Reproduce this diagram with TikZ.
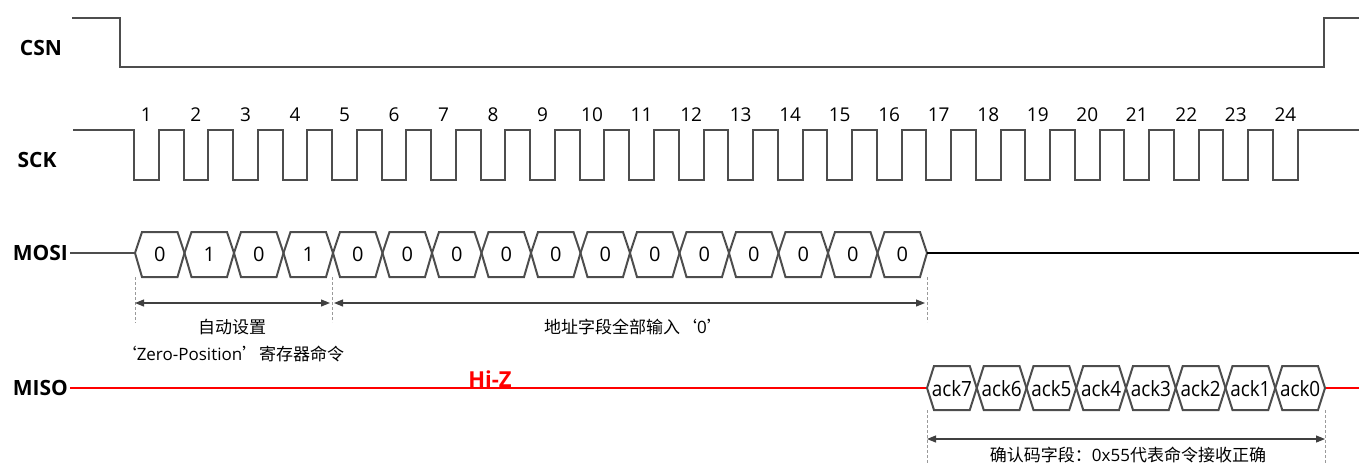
\documentclass[tikz,border=0pt]{standalone}
\usepackage{fontspec}
\setmainfont{Open Sans}
\newfontfamily\cjk{Noto Sans CJK SC}
\newfontfamily\lat{Open Sans}
\usetikzlibrary{arrows.meta}
\definecolor{wirecol}{HTML}{4D4D4D}
\definecolor{dimcol}{HTML}{404040}
\definecolor{guidecol}{HTML}{9A9A9A}
\definecolor{misored}{HTML}{FF0000}
\begin{document}
\begin{tikzpicture}[x=1pt,y=-1pt,
  wire/.style={draw=wirecol,line width=2pt,line join=miter},
  lbl/.style={font=\bfseries\fontsize{21}{21}\selectfont,text=black,inner sep=0pt},
  num/.style={font=\fontsize{19}{19}\selectfont,inner sep=0pt},
  celltxt/.style={font=\fontsize{20}{20}\selectfont,inner sep=0pt},
  acktxt/.style={font=\fontsize{21}{21}\selectfont,inner sep=0pt},
  dimarrow/.style={draw=dimcol,line width=1.1pt,{Triangle[length=9pt,width=7pt]}-{Triangle[length=9pt,width=7pt]}},
  guide/.style={draw=guidecol,line width=1pt,dash pattern=on 3pt off 2pt},
  note/.style={font=\cjk\fontsize{17}{17}\selectfont,inner sep=0pt}]
\useasboundingbox (0,0) rectangle (1359,464);

% labels
\node[lbl] (csnlbl) at (41,48) {CSN};
\node[lbl] (scklbl) at (37,160) {SCK};
\node[lbl,anchor=east] (mosilbl) at (68,253) {MOSI};
\node[lbl,anchor=east] (misolbl) at (68,388) {MISO};

% CSN
\draw[wire] (72,18) -- (120,18) -- (120,67) -- (1324,67) -- (1324,18) -- (1359,18);

% SCK
\draw[wire] (73,130) foreach \i in {0,...,23} {
  -- ({134+49.52*\i},130) -- ({134+49.52*\i},180) -- ({158.8+49.52*\i},180) -- ({158.8+49.52*\i},130) }
  -- (1359,130);
\foreach \i [evaluate=\i as \n using int(\i+1)] in {0,...,23}
  \node[num] (n\n) at ({146.4+49.52*\i},115) {\n};

% MOSI
\draw[wire] (mosilbl.east) ++(2pt,0) -- (135,253);
\foreach \v [count=\k from 0] in {0,1,0,1,0,0,0,0,0,0,0,0,0,0,0,0} {
  \pgfmathsetmacro\xa{135+49.5*\k}
  \pgfmathsetmacro\xb{\xa+49.5}
  \draw[wire] (\xa,253) -- ({\xa+7},232) -- ({\xb-7},232) -- (\xb,253) -- ({\xb-7},277) -- ({\xa+7},277) -- cycle;
  \node[celltxt] (mo\k) at ({(\xa+\xb)/2},254) {\v};
}
\draw[black,line width=2.6pt] (927,253) -- (1359,253);

% MOSI annotations
\draw[guide] (135,277) -- (135,323);
\draw[guide] (332,277) -- (332,322);
\draw[guide] (927,277) -- (927,322);
\coordinate (a1) at (135,303);
\coordinate (a2) at (330,303);
\coordinate (a3) at (334,303);
\coordinate (a4) at (925,303);
\draw[dimarrow] (a1) -- (a2);
\draw[dimarrow] (a3) -- (a4);
\node[note] (t1) at (232,327) {自动设置};
\node[note] (t2) at (232,354) {‘{\lat Zero-Position}’寄存器命令};
\node[note] (t3) at (634,327) {地址字段全部输入‘{\lat 0}’};

% MISO
\draw[misored,line width=2.6pt] (misolbl.east) ++(2pt,0) -- (927,388);
\draw[misored,line width=2.6pt] (1325,388) -- (1359,388);
\node[font=\bfseries\fontsize{22}{22}\selectfont,text=misored,inner sep=0pt] (hiz) at (490,379) {Hi-Z};
\foreach \v [count=\k from 0] in {ack7,ack6,ack5,ack4,ack3,ack2,ack1,ack0} {
  \pgfmathsetmacro\xa{927+49.75*\k}
  \pgfmathsetmacro\xb{\xa+49.75}
  \draw[wire] (\xa,388) -- ({\xa+7},366) -- ({\xb-7},366) -- (\xb,388) -- ({\xb-7},410) -- ({\xa+7},410) -- cycle;
  \node[acktxt] (mi\k) at ({(\xa+\xb)/2},389) {\scalebox{0.9}[1]{\v}};
}

% MISO annotations
\draw[guide] (927,410) -- (927,464);
\draw[guide] (1325,410) -- (1325,464);
\coordinate (b1) at (927,439);
\coordinate (b2) at (1325,439);
\draw[dimarrow] (b1) -- (b2);
\node[note] (t4) at (1128,454.5) {确认码字段：{\lat 0x55}代表命令接收正确};
\end{tikzpicture}
\end{document}
